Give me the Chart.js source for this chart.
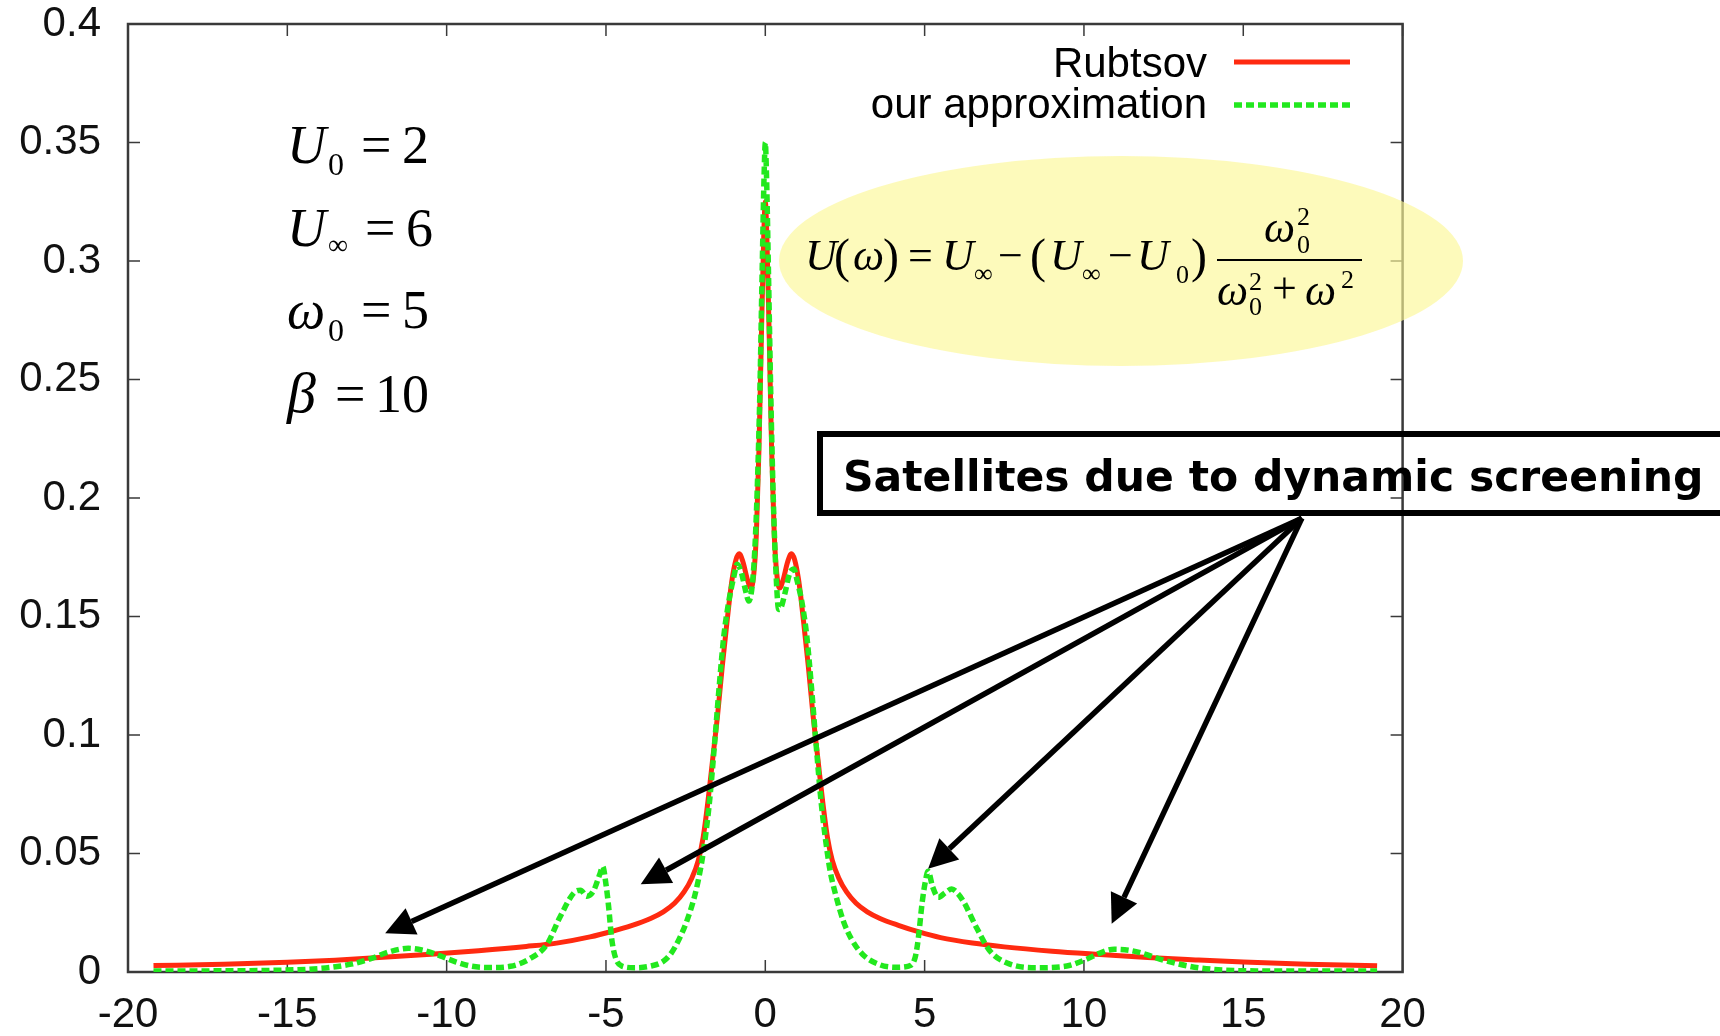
<!DOCTYPE html>
<html>
<head>
<meta charset="utf-8">
<title>Spectral function with dynamic screening</title>
<script src="https://cdn.jsdelivr.net/npm/chart.js@4.4.1/dist/chart.umd.min.js"></script>
<style>
  html, body { margin: 0; padding: 0; background: #fff; }
  #wrap { width: 1720px; height: 1036px; }
</style>
</head>
<body>
<div id="wrap"><canvas id="plot" width="1720" height="1036"></canvas></div>
<script>
// Rubtsov reference curve
const omegaRubtsov = [-19.2, -17, -15, -13.5, -12, -10.5, -9, -7.5, -6.5, -5.5, -4.8, -4.2, -3.6, -3.2, -2.85, -2.55, -2.3, -2.1, -1.95, -1.8, -1.65, -1.5, -1.35, -1.2, -1.05, -0.92, -0.82, -0.7, -0.56, -0.45, -0.36, -0.28, -0.2, -0.12, -0.05, 0,
  0.05, 0.12, 0.2, 0.28, 0.36, 0.45, 0.56, 0.7, 0.82, 0.92, 1.05, 1.2, 1.35, 1.5, 1.65, 1.8, 1.95, 2.1, 2.3, 2.55, 2.85, 3.2, 3.6, 4.2, 4.8, 5.5, 6.5, 7.5, 9, 10.5, 12, 13.5, 15, 17, 19.2];
const specRubtsov = [0.0027, 0.0033, 0.0041, 0.0050, 0.0062, 0.0075, 0.0090, 0.0108, 0.0123, 0.0148, 0.0172, 0.0196, 0.0226, 0.0254, 0.0290, 0.0338, 0.0398, 0.0472, 0.0568, 0.0720, 0.0900, 0.1080, 0.1290, 0.1480, 0.1650, 0.1740, 0.1765, 0.1730, 0.1655, 0.1620, 0.1680, 0.1850, 0.2200, 0.2700, 0.3100, 0.3250,
  0.3100, 0.2700, 0.2200, 0.1850, 0.1680, 0.1620, 0.1655, 0.1730, 0.1765, 0.1740, 0.1650, 0.1480, 0.1290, 0.1080, 0.0900, 0.0720, 0.0568, 0.0472, 0.0398, 0.0338, 0.0290, 0.0254, 0.0226, 0.0196, 0.0170, 0.0145, 0.0122, 0.0106, 0.0088, 0.0074, 0.0061, 0.0051, 0.0042, 0.0033, 0.0026];

// our approximation (with satellites)
const omegaApprox = [-19.2, -17, -15.5, -14.3, -13.6, -13, -12.4, -11.8, -11.2, -10.7, -10.2, -9.7, -9.2, -8.6, -8.0, -7.4, -6.85, -6.45, -6.0, -5.8, -5.6, -5.4, -5.2, -5.1, -5.0, -4.92, -4.82, -4.7, -4.5, -4.1, -3.6, -3.2, -2.95, -2.7, -2.45, -2.2, -2.0, -1.88, -1.75, -1.6, -1.45, -1.3, -1.15, -1.0, -0.88, -0.76, -0.62, -0.52, -0.42, -0.33, -0.25, -0.17, -0.1, -0.04, 0,
  0.04, 0.1, 0.17, 0.25, 0.33, 0.42, 0.5, 0.62, 0.76, 0.9, 1.0, 1.15, 1.3, 1.45, 1.6, 1.75, 1.88, 2.03, 2.2, 2.45, 2.7, 3.05, 3.6, 4.1, 4.5, 4.7, 4.8, 4.92, 5.02, 5.11, 5.25, 5.43, 5.65, 5.85, 6.05, 6.25, 6.63, 7.05, 7.57, 8.5, 9.46, 10.08, 10.5, 10.95, 11.4, 11.8, 12.6, 13.6, 15.1, 17, 19.2];
const specApprox = [0.0004, 0.0005, 0.0007, 0.0012, 0.0020, 0.0033, 0.0055, 0.0085, 0.0100, 0.0090, 0.0068, 0.0042, 0.0024, 0.0019, 0.0024, 0.0055, 0.0117, 0.0230, 0.0335, 0.0345, 0.0320, 0.0340, 0.0410, 0.0445, 0.0370, 0.0280, 0.0140, 0.0060, 0.0025, 0.0018, 0.0025, 0.0045, 0.0080, 0.0140, 0.0220, 0.0330, 0.0460, 0.0570, 0.0720, 0.0950, 0.1200, 0.1420, 0.1560, 0.1660, 0.1720, 0.1690, 0.1610, 0.1565, 0.1620, 0.1780, 0.2050, 0.2450, 0.2950, 0.3350, 0.3500,
  0.3350, 0.2950, 0.2450, 0.2000, 0.1700, 0.1530, 0.1540, 0.1600, 0.1680, 0.1700, 0.1650, 0.1560, 0.1420, 0.1200, 0.0950, 0.0720, 0.0570, 0.0430, 0.0330, 0.0215, 0.0140, 0.0075, 0.0030, 0.0020, 0.0025, 0.0060, 0.0140, 0.0290, 0.0380, 0.0425, 0.0360, 0.0315, 0.0335, 0.0350, 0.0330, 0.0290, 0.0187, 0.0089, 0.0039, 0.0018, 0.0025, 0.0054, 0.0080, 0.0096, 0.0092, 0.0080, 0.0046, 0.0018, 0.0005, 0.0004, 0.0004];

const seriesLabels = ['Rubtsov', 'our approximation'];
const xTicksStep = 5;
const yTicksStep = 0.05;

// arrows from the label box to the satellite peaks, [x, y] in data units
const arrowFrom = [16.84, 0.1915];
const arrowTips = [[-11.93, 0.0163], [-3.91, 0.037], [5.11, 0.0436], [10.87, 0.0204]];

const SANS = '"Liberation Sans", Arial, Helvetica, sans-serif';
const SERIF = '"Liberation Serif", "Times New Roman", serif';

function pts(xs, ys) {
  return xs.map((x, i) => ({ x: x, y: ys[i] }));
}

function txt(ctx, s, x, y, size, italic) {
  ctx.font = (italic ? 'italic ' : '') + size + 'px ' + SERIF;
  ctx.fillText(s, x, y);
}

// gnuplot-like border with inward ticks on all four sides
const frame = {
  id: 'frame',
  beforeDatasetsDraw(chart) {
    const { ctx, chartArea: a, scales } = chart;
    const tl = 12;
    ctx.save();
    ctx.strokeStyle = '#3a3a3a';
    ctx.lineWidth = 1.5;
    ctx.beginPath();
    scales.x.ticks.forEach(t => {
      const px = scales.x.getPixelForValue(t.value);
      ctx.moveTo(px, a.bottom); ctx.lineTo(px, a.bottom - tl);
      ctx.moveTo(px, a.top); ctx.lineTo(px, a.top + tl);
    });
    scales.y.ticks.forEach(t => {
      const py = scales.y.getPixelForValue(t.value);
      ctx.moveTo(a.left, py); ctx.lineTo(a.left + tl, py);
      ctx.moveTo(a.right, py); ctx.lineTo(a.right - tl, py);
    });
    ctx.stroke();
    ctx.lineWidth = 2.5;
    ctx.strokeRect(a.left, a.top, a.right - a.left, a.bottom - a.top);
    ctx.restore();
  }
};

const notes = {
  id: 'notes',
  afterDraw(chart) {
    const { ctx, scales: { x, y } } = chart;
    ctx.save();

    // legend, text right of which sits a sample of the line
    ctx.font = '42px ' + SANS;
    ctx.fillStyle = '#000';
    ctx.textAlign = 'right';
    ctx.textBaseline = 'alphabetic';
    const rows = [[77, 62], [118, 105]];
    chart.data.datasets.forEach((ds, i) => {
      ctx.fillText(ds.label, 1207, rows[i][0]);
      ctx.save();
      ctx.strokeStyle = ds.borderColor;
      ctx.lineWidth = ds.borderWidth;
      ctx.setLineDash(ds.borderDash || []);
      ctx.beginPath();
      ctx.moveTo(1234, rows[i][1]);
      ctx.lineTo(1350, rows[i][1]);
      ctx.stroke();
      ctx.restore();
    });
    ctx.textAlign = 'left';

    // model parameters
    const params = [
      { sym: 'U', symSize: 54, sub: '0', subSize: 32, subY: 12, eqX: 361, val: '2', valX: 402, base: 163 },
      { sym: 'U', symSize: 54, sub: '\u221E', subSize: 28, subY: 8, eqX: 365, val: '6', valX: 406, base: 246 },
      { sym: '\u03C9', symSize: 54, sub: '0', subSize: 32, subY: 13, eqX: 361, val: '5', valX: 402, base: 328 },
      { sym: '\u03B2', symSize: 58, sub: '', subSize: 32, subY: 0, eqX: 335, val: '10', valX: 375, base: 412 }
    ];
    params.forEach(p => {
      txt(ctx, p.sym, 287, p.base, p.symSize, true);
      if (p.sub) txt(ctx, p.sub, 328, p.base + p.subY, p.subSize, false);
      txt(ctx, '=', p.eqX, p.base, 54, false);
      txt(ctx, p.val, p.valX, p.base, 54, false);
    });

    // yellow ellipse holding U(omega)
    ctx.fillStyle = 'rgba(252, 248, 150, 0.65)';
    ctx.beginPath();
    ctx.ellipse(1121, 261, 342, 105, 0, 0, Math.PI * 2);
    ctx.fill();

    ctx.fillStyle = '#000';
    const b = 270;
    txt(ctx, 'U', 805, b, 44, true);
    txt(ctx, '(', 834, b + 2, 48, false);
    txt(ctx, '\u03C9', 853, b, 44, true);
    txt(ctx, ')', 883, b + 2, 48, false);
    txt(ctx, '=', 908, b, 44, false);
    txt(ctx, 'U', 942, b, 44, true);
    txt(ctx, '\u221E', 974, b + 12, 26, false);
    txt(ctx, '\u2212', 998, b, 44, false);
    txt(ctx, '(', 1030, b + 2, 48, false);
    txt(ctx, 'U', 1050, b, 44, true);
    txt(ctx, '\u221E', 1082, b + 12, 26, false);
    txt(ctx, '\u2212', 1108, b, 44, false);
    txt(ctx, 'U', 1137, b, 44, true);
    txt(ctx, '0', 1176, b + 13, 26, false);
    txt(ctx, ')', 1191, b + 2, 48, false);
    // fraction
    ctx.fillRect(1217, 259, 145, 2);
    txt(ctx, '\u03C9', 1264, 242, 44, true);
    txt(ctx, '2', 1297, 225, 26, false);
    txt(ctx, '0', 1297, 253, 26, false);
    txt(ctx, '\u03C9', 1217, 305, 44, true);
    txt(ctx, '2', 1249, 290, 26, false);
    txt(ctx, '0', 1249, 315, 26, false);
    txt(ctx, '+', 1272, 303, 44, false);
    txt(ctx, '\u03C9', 1305, 305, 44, true);
    txt(ctx, '2', 1341, 288, 26, false);

    // label box, open towards the right edge
    ctx.strokeStyle = '#000';
    ctx.lineWidth = 6;
    ctx.beginPath();
    ctx.moveTo(1730, 434);
    ctx.lineTo(820, 434);
    ctx.lineTo(820, 513);
    ctx.lineTo(1730, 513);
    ctx.stroke();
    ctx.font = 'bold 42.5px "DejaVu Sans", Verdana, sans-serif';
    ctx.fillText('Satellites due to dynamic screening', 843, 491);

    // arrows
    const ox = x.getPixelForValue(arrowFrom[0]);
    const oy = y.getPixelForValue(arrowFrom[1]);
    arrowTips.forEach(([tx, ty]) => {
      const px = x.getPixelForValue(tx);
      const py = y.getPixelForValue(ty);
      const ang = Math.atan2(py - oy, px - ox);
      const len = 29, half = 14.5;
      const bx = px - len * Math.cos(ang);
      const by = py - len * Math.sin(ang);
      ctx.lineWidth = 5.5;
      ctx.beginPath();
      ctx.moveTo(ox, oy);
      ctx.lineTo(bx, by);
      ctx.stroke();
      ctx.beginPath();
      ctx.moveTo(px, py);
      ctx.lineTo(bx + half * Math.sin(ang), by - half * Math.cos(ang));
      ctx.lineTo(bx - half * Math.sin(ang), by + half * Math.cos(ang));
      ctx.closePath();
      ctx.fill();
    });

    ctx.restore();
  }
};

const tickFont = { family: SANS, size: 42, lineHeight: 1 };

new Chart(document.getElementById('plot'), {
  type: 'line',
  data: {
    datasets: [
      {
        label: seriesLabels[0],
        data: pts(omegaRubtsov, specRubtsov),
        borderColor: '#ff2a10',
        borderWidth: 5,
        pointRadius: 0,
        fill: false,
        cubicInterpolationMode: 'monotone',
        order: 2
      },
      {
        label: seriesLabels[1],
        data: pts(omegaApprox, specApprox),
        borderColor: '#22e81e',
        borderWidth: 5.5,
        borderDash: [8, 4],
        pointRadius: 0,
        fill: false,
        cubicInterpolationMode: 'monotone',
        order: 1
      }
    ]
  },
  options: {
    responsive: false,
    devicePixelRatio: 1,
    animation: false,
    layout: { padding: { top: 24, right: 317.4, bottom: 0, left: 0 } },
    plugins: {
      legend: { display: false },
      tooltip: { enabled: false }
    },
    scales: {
      x: {
        type: 'linear',
        min: -20,
        max: 20,
        ticks: { stepSize: xTicksStep, font: tickFont, color: '#111', padding: 22, maxRotation: 0 },
        grid: { display: false, drawTicks: false },
        border: { display: false },
        afterFit: s => { s.height = 64; s.paddingLeft = 0; s.paddingRight = 0; }
      },
      y: {
        min: 0,
        max: 0.4,
        ticks: { stepSize: yTicksStep, font: tickFont, color: '#111', padding: 27, callback: v => String(+v.toFixed(2)) },
        grid: { display: false, drawTicks: false },
        border: { display: false },
        afterFit: s => { s.width = 128; s.paddingTop = 0; s.paddingBottom = 0; }
      }
    }
  },
  plugins: [frame, notes]
});
</script>
</body>
</html>
